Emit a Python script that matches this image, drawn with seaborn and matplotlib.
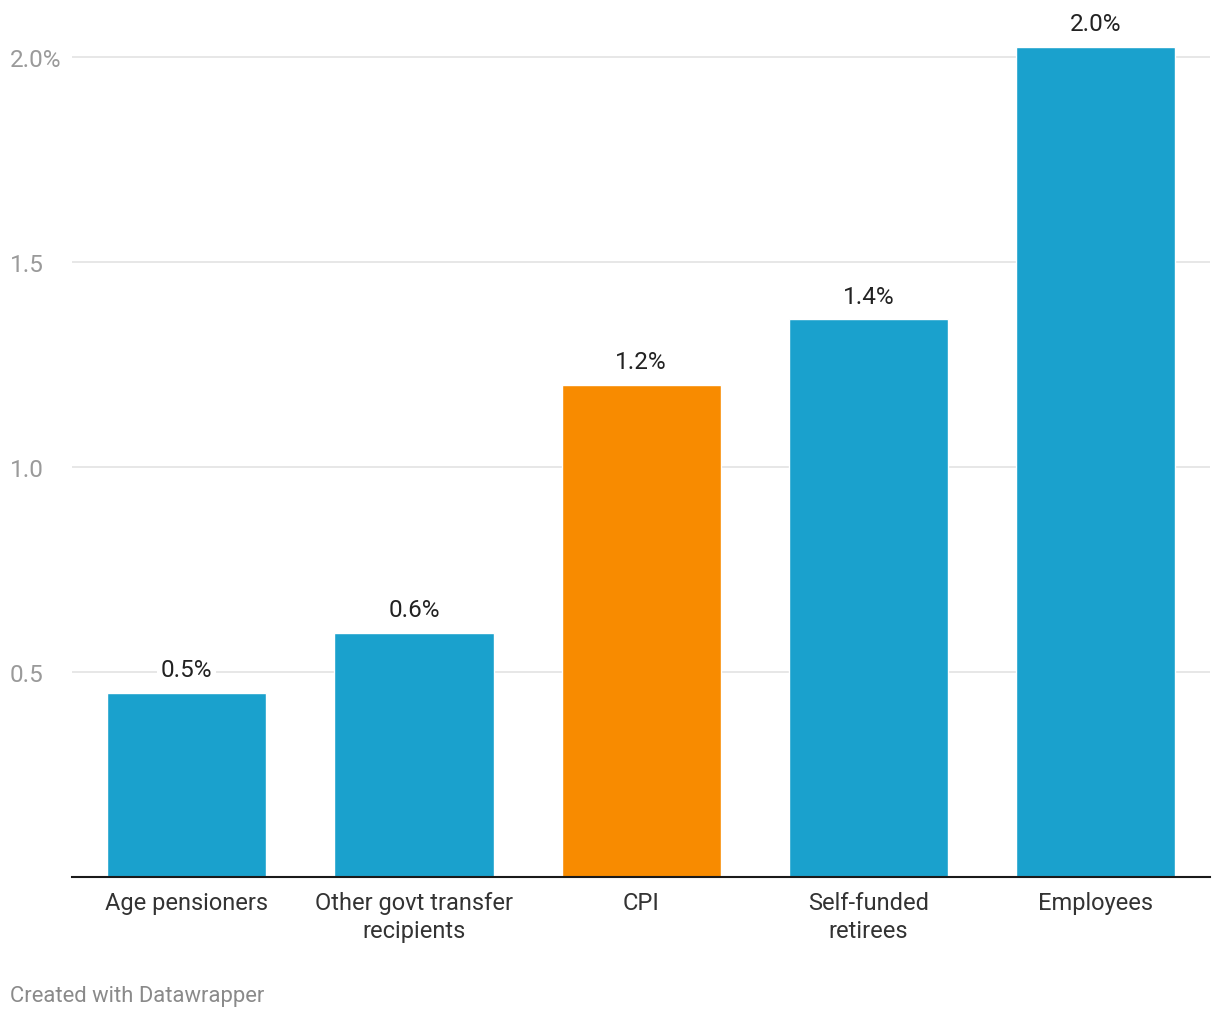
import matplotlib
matplotlib.use("Agg")
import matplotlib.pyplot as plt
import seaborn as sns
import pandas as pd

categories = ["Age pensioners", "Other govt transfer\nrecipients", "CPI",
              "Self-funded\nretirees", "Employees"]
values = [0.45, 0.595, 1.2, 1.36, 2.025]
value_labels = ["0.5%", "0.6%", "1.2%", "1.4%", "2.0%"]
bar_colors = ["#1aa1cd", "#1aa1cd", "#f88b00", "#1aa1cd", "#1aa1cd"]
y_ticks = [0.5, 1.0, 1.5, 2.0]
y_tick_labels = ["0.5", "1.0", "1.5", "2.0%"]

sns.set_style("white")
plt.rcParams["font.family"] = ["Roboto", "DejaVu Sans"]

df = pd.DataFrame({"cat": categories, "val": values})

fig = plt.figure(figsize=(12.2, 10.2), dpi=100)
ax = fig.add_axes([72 / 1220, 142 / 1020, 1138 / 1220, 861 / 1020])

sns.barplot(data=df, x="cat", y="val", hue="cat",
            palette=dict(zip(categories, bar_colors)),
            width=0.7, legend=False, ax=ax, saturation=1)

ax.set_xlim(-0.505, 4.503)
ax.set_ylim(0, 2.1)
ax.set_yticks(y_ticks)
ax.set_yticklabels(y_tick_labels)
ax.grid(axis="y", color="#e3e3e3", linewidth=1.2)
ax.set_axisbelow(True)

for s in ["top", "right", "left"]:
    ax.spines[s].set_visible(False)
ax.spines["bottom"].set_color("#1a1a1a")
ax.spines["bottom"].set_linewidth(1.5)
ax.spines["bottom"].set_zorder(5)

ax.tick_params(axis="y", length=0, pad=44.6, labelsize=17.5, labelcolor="#9a9a9a")
for lab in ax.get_yticklabels():
    lab.set_horizontalalignment("left")
ax.tick_params(axis="x", length=0, pad=10, labelsize=17, labelcolor="#333333")
for lab in ax.get_xticklabels():
    lab.set_linespacing(1.3)
ax.set_xlabel("")
ax.set_ylabel("")

for i, (v, t) in enumerate(zip(values, value_labels)):
    ax.annotate(t, (i, v), xytext=(0, 12), textcoords="offset points",
                ha="center", va="baseline", fontsize=17.5, color="#222222",
                bbox=dict(boxstyle="square,pad=0.15", fc="white", ec="none"))

fig.text(10 / 1220, 1 - 997 / 1020, "Created with Datawrapper", fontsize=15.8,
         color="#8a8a8a", ha="left", va="center")

fig.savefig("out.png", dpi=100, facecolor="white")
